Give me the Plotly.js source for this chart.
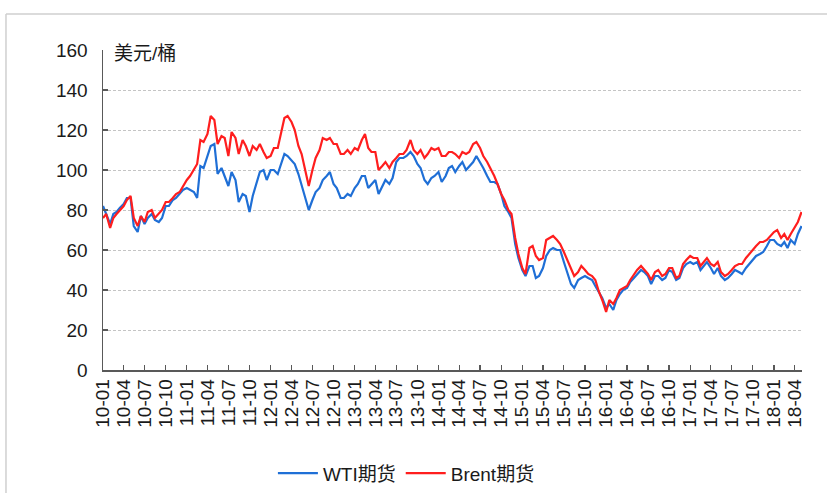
<!DOCTYPE html>
<html>
<head>
<meta charset="utf-8">
<script src="https://cdn.plot.ly/plotly-3.0.1.min.js"></script>
<style>html,body{margin:0;padding:0;background:#fff;}#chart{width:827px;height:493px;}</style>
</head>
<body>
<div id="chart"></div>
<script>
// semi-monthly observation dates
const dates = [
"2010-01-01","2010-01-15","2010-02-01","2010-02-15","2010-03-01","2010-03-15","2010-04-01","2010-04-15","2010-05-01","2010-05-15","2010-06-01","2010-06-15","2010-07-01","2010-07-15","2010-08-01","2010-08-15","2010-09-01","2010-09-15","2010-10-01","2010-10-15","2010-11-01","2010-11-15","2010-12-01","2010-12-15",
"2011-01-01","2011-01-15","2011-02-01","2011-02-15","2011-03-01","2011-03-15","2011-04-01","2011-04-15","2011-05-01","2011-05-15","2011-06-01","2011-06-15","2011-07-01","2011-07-15","2011-08-01","2011-08-15","2011-09-01","2011-09-15","2011-10-01","2011-10-15","2011-11-01","2011-11-15","2011-12-01","2011-12-15",
"2012-01-01","2012-01-15","2012-02-01","2012-02-15","2012-03-01","2012-03-15","2012-04-01","2012-04-15","2012-05-01","2012-05-15","2012-06-01","2012-06-15","2012-07-01","2012-07-15","2012-08-01","2012-08-15","2012-09-01","2012-09-15","2012-10-01","2012-10-15","2012-11-01","2012-11-15","2012-12-01","2012-12-15",
"2013-01-01","2013-01-15","2013-02-01","2013-02-15","2013-03-01","2013-03-15","2013-04-01","2013-04-15","2013-05-01","2013-05-15","2013-06-01","2013-06-15","2013-07-01","2013-07-15","2013-08-01","2013-08-15","2013-09-01","2013-09-15","2013-10-01","2013-10-15","2013-11-01","2013-11-15","2013-12-01","2013-12-15",
"2014-01-01","2014-01-15","2014-02-01","2014-02-15","2014-03-01","2014-03-15","2014-04-01","2014-04-15","2014-05-01","2014-05-15","2014-06-01","2014-06-15","2014-07-01","2014-07-15","2014-08-01","2014-08-15","2014-09-01","2014-09-15","2014-10-01","2014-10-15","2014-11-01","2014-11-15","2014-12-01","2014-12-15",
"2015-01-01","2015-01-15","2015-02-01","2015-02-15","2015-03-01","2015-03-15","2015-04-01","2015-04-15","2015-05-01","2015-05-15","2015-06-01","2015-06-15","2015-07-01","2015-07-15","2015-08-01","2015-08-15","2015-09-01","2015-09-15","2015-10-01","2015-10-15","2015-11-01","2015-11-15","2015-12-01","2015-12-15",
"2016-01-01","2016-01-15","2016-02-01","2016-02-15","2016-03-01","2016-03-15","2016-04-01","2016-04-15","2016-05-01","2016-05-15","2016-06-01","2016-06-15","2016-07-01","2016-07-15","2016-08-01","2016-08-15","2016-09-01","2016-09-15","2016-10-01","2016-10-15","2016-11-01","2016-11-15","2016-12-01","2016-12-15",
"2017-01-01","2017-01-15","2017-02-01","2017-02-15","2017-03-01","2017-03-15","2017-04-01","2017-04-15","2017-05-01","2017-05-15","2017-06-01","2017-06-15","2017-07-01","2017-07-15","2017-08-01","2017-08-15","2017-09-01","2017-09-15","2017-10-01","2017-10-15","2017-11-01","2017-11-15","2017-12-01","2017-12-15",
"2018-01-01","2018-01-15","2018-02-01","2018-02-15","2018-03-01","2018-03-15","2018-04-01","2018-04-15","2018-05-01"
];

// WTI futures (USD/bbl)
const wti = [
82,78,73,78,79,81,83,86,86,72,69,77,73,76,78,75,74,76,82,82,85,86,88,90,
91,90,89,86,102,101,107,112,113,98,101,97,92,99,95,84,88,87,79,87,93,99,100,95,
100,100,98,103,108,107,105,103,98,92,86,80,85,89,91,95,97,99,93,91,86,86,88,87,
91,93,97,97,91,93,95,88,92,95,93,96,104,106,106,107,109,107,103,101,95,93,96,97,
99,94,97,101,102,99,102,104,100,102,104,107,104,101,97,94,94,93,88,82,79,76,63,56,
50,47,52,52,46,47,51,57,60,61,60,60,54,49,43,41,45,46,47,46,45,42,39,36,
31,33,30,35,38,40,41,44,46,48,50,49,47,43,47,47,45,46,50,49,45,46,51,53,
54,53,54,50,52,54,51,48,51,47,45,46,48,50,49,48,51,53,55,57,58,59,62,65,
65,63,62,64,61,65,63,68,72
];

// Brent futures (USD/bbl)
const brent = [
76,78,71,76,78,80,82,85,87,76,72,77,74,79,80,76,78,80,84,84,86,88,89,92,
95,97,100,103,115,114,118,127,125,113,117,116,107,119,116,108,115,112,107,112,110,113,109,106,
107,111,111,119,126,127,124,120,112,108,100,92,100,106,110,116,115,116,113,113,108,108,110,108,
111,110,115,118,111,109,109,100,102,104,101,104,106,108,108,110,115,110,108,110,106,108,111,110,
111,107,107,109,109,108,106,109,108,109,113,114,111,107,104,101,97,93,88,85,80,78,66,58,
51,48,61,62,57,55,56,65,66,67,65,63,59,55,50,47,49,52,50,48,47,45,39,35,
29,35,33,36,40,41,42,45,48,50,52,50,48,45,49,50,47,48,51,51,46,47,53,55,
57,56,56,52,54,56,53,52,54,49,47,48,50,52,53,53,56,58,60,62,64,64,65,67,
69,70,66,68,65,68,71,74,79
];

const tickLabels = ["10-01","10-04","10-07","10-10","11-01","11-04","11-07","11-10",
"12-01","12-04","12-07","12-10","13-01","13-04","13-07","13-10",
"14-01","14-04","14-07","14-10","15-01","15-04","15-07","15-10",
"16-01","16-04","16-07","16-10","17-01","17-04","17-07","17-10",
"18-01","18-04"];
const tickDates = tickLabels.map(t => "20" + t.slice(0,2) + "-" + t.slice(3) + "-01");

const seriesNames = ["WTI期货", "Brent期货"];
const unitLabel = "美元/桶";

const FONT = '"Liberation Sans", Arial, "Noto Sans CJK SC", sans-serif';
const TXT = '#1a1a1a';

const traces = [
  {x: dates, y: wti, name: seriesNames[0], type: 'scatter', mode: 'lines',
   line: {color: '#1F6FD6', width: 2.2}},
  {x: dates, y: brent, name: seriesNames[1], type: 'scatter', mode: 'lines',
   line: {color: '#FF1E1E', width: 2.2}}
];

const layout = {
  width: 827, height: 493,
  margin: {l: 103, r: 25, t: 50, b: 123},
  paper_bgcolor: '#fff', plot_bgcolor: '#fff',
  font: {family: FONT, size: 19, color: TXT},
  showlegend: true,
  legend: {
    orientation: 'h', xref: 'container', yref: 'container',
    x: 0.33, xanchor: 'left', y: 0.04, yanchor: 'middle',
    font: {family: FONT, size: 19, color: TXT},
    itemwidth: 40, bgcolor: 'rgba(0,0,0,0)'
  },
  xaxis: {
    type: 'date', range: ['2010-01-01', '2018-05-03'],
    tickmode: 'array', tickvals: tickDates, ticktext: tickLabels,
    tickangle: -90, ticks: 'inside', ticklen: 5, tickwidth: 1.2, tickcolor: '#595959',
    showline: true, linecolor: '#595959', linewidth: 1.5,
    showgrid: false, zeroline: false,
    tickfont: {family: FONT, size: 19, color: TXT}
  },
  yaxis: {
    range: [0, 160], tickmode: 'linear', tick0: 0, dtick: 20,
    ticks: 'inside', ticklen: 5, tickwidth: 1.2, tickcolor: '#595959',
    showline: true, linecolor: '#595959', linewidth: 1.5,
    showgrid: true, gridcolor: '#c4c4c4', gridwidth: 1, griddash: '3px,2px',
    zeroline: false, ticklabelstandoff: 10,
    tickfont: {family: FONT, size: 19, color: TXT}
  },
  annotations: [{
    xref: 'paper', yref: 'y', x: 0, y: 160, xanchor: 'left', yanchor: 'middle',
    xshift: 9, yshift: -3, showarrow: false, text: unitLabel,
    font: {family: FONT, size: 19, color: TXT}
  }],
  shapes: [
    {type: 'line', xref: 'paper', yref: 'paper', x0: -0.1388, x1: 1.04, y0: 1.1125, y1: 1.1125,
     line: {color: '#cfcfcf', width: 1.5}},
    {type: 'line', xref: 'paper', yref: 'paper', x0: -0.1388, x1: -0.1388, y0: 1.1125, y1: -0.4,
     line: {color: '#cfcfcf', width: 1.5}}
  ]
};

Plotly.newPlot('chart', traces, layout, {displayModeBar: false, staticPlot: true});
</script>
</body>
</html>
